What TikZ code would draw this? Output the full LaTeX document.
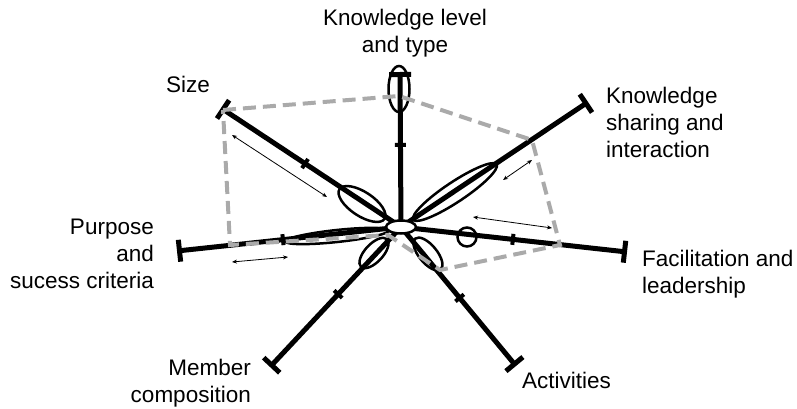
\documentclass[tikz,border=0pt]{standalone}
\usepackage{fontspec}
\setmainfont{Liberation Sans}
\usetikzlibrary{arrows.meta,shapes.geometric}
\definecolor{hullgray}{HTML}{AAAAAA}

\begin{document}
\begin{tikzpicture}[x=1pt,y=-1pt,
axis/.style={line width=5pt,-{Bar[width=22pt]}},
petal/.style={draw,ellipse,line width=2.5pt,inner sep=0pt},
tick/.style={fill,sloped,inner sep=0pt,minimum width=4pt,minimum height=11pt},
hull/.style={hullgray,line width=4pt,dash pattern=on 13pt off 7pt},
span/.style={{Stealth[length=5pt,width=4pt]}-{Stealth[length=5pt,width=4pt]},line width=0.8pt},
lbl/.style={font=\fontsize{22.5}{27}\selectfont,inner sep=0pt}]
\useasboundingbox (0,0) rectangle (797,409);
% axis ends
\coordinate (o) at (401,227);
\coordinate (ktype) at (400,72);
\coordinate (kshare) at (588,102);
\coordinate (facil) at (627,252);
\coordinate (activ) at (516,366);
\coordinate (member) at (270,367);
\coordinate (purpose) at (177,251);
\coordinate (size) at (221,108);
\foreach \n in {ktype,kshare,facil,activ,member,purpose,size}
  \draw[axis] (o) -- (\n);
\foreach \n/\t in {ktype/.53,size/.533,facil/.495,activ/.51,member/.48,purpose/.527}
  \path (o) -- (\n) node[tick,pos=\t] (\n-tick) {};
% petals
\node[petal,minimum width=21pt,minimum height=46pt] (ktype-petal) at (399,89) {};
\node[petal,minimum width=100pt,minimum height=20pt,rotate=33.6] (kshare-petal) at (455,192) {};
\node[petal,minimum width=19pt,minimum height=19pt] (facil-petal) at (467,237) {};
\node[petal,minimum width=40pt,minimum height=18pt,rotate=-50.4] (activ-petal) at (428,254) {};
\node[petal,minimum width=38pt,minimum height=18pt,rotate=46.9] (member-petal) at (374,253) {};
\node[petal,minimum width=104pt,minimum height=12pt,rotate=6.1] (purpose-petal) at (337,236) {};
\node[petal,minimum width=54pt,minimum height=24pt,rotate=-33.5] (size-petal) at (362,204) {};
% profile
\draw[hull] (223,110) -- (399,96) -- (532,140) -- (560,245) -- (440,270)
  -- (388,235) -- (230,245) -- cycle;
\node[petal,fill=white,minimum width=30pt,minimum height=13pt] (hub) at (o) {};
% spans
\coordinate (size-a) at (232,135); \coordinate (size-b) at (327,197);
\coordinate (kshare-a) at (503,180); \coordinate (kshare-b) at (532,160);
\coordinate (facil-a) at (473,217); \coordinate (facil-b) at (552,228);
\coordinate (purpose-a) at (232,262); \coordinate (purpose-b) at (288,257);
\foreach \n in {size,kshare,facil,purpose}
  \draw[span] (\n-a) -- (\n-b);
% labels
\node[lbl,align=center,anchor=base] (ktype-lbl) at (405,53) {Knowledge level\\and type};
\node[lbl,anchor=base west] (size-lbl) at (166,93) {Size};
\node[lbl,align=left,anchor=base west] (kshare-lbl) at (606,157) {Knowledge\\sharing and\\interaction};
\node[lbl,align=left,anchor=base west] (facil-lbl) at (642,293) {Facilitation and\\leadership};
\node[lbl,anchor=base west] (activ-lbl) at (522,388) {Activities};
\node[lbl,align=right,anchor=base east] (member-lbl) at (251,402) {Member\\composition};
\node[lbl,align=right,anchor=base east] (purpose-lbl) at (154,288) {Purpose\\and\\sucess criteria};
\end{tikzpicture}
\end{document}
